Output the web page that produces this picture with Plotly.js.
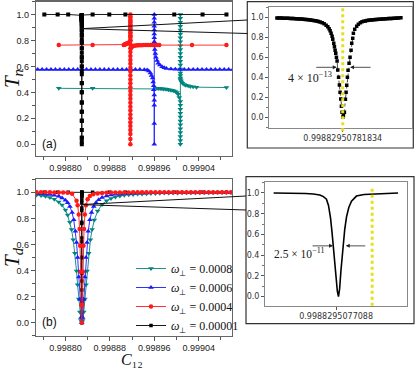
<!DOCTYPE html>
<html><head><meta charset="utf-8">
<script src="https://cdn.plot.ly/plotly-3.0.1.min.js"></script>
<style>html,body{margin:0;padding:0;background:#fff}#plot{width:415px;height:369px}</style>
</head><body><div id="plot"></div><script>
// ================= DATA =================
const legendNames = ['<i>ω</i><sub>⊥</sub> = 0.0008','<i>ω</i><sub>⊥</sub> = 0.0006','<i>ω</i><sub>⊥</sub> = 0.0004','<i>ω</i><sub>⊥</sub> = 0.00001'];

// inset (a): black series around its resonance, x offset in units of 1e-13 from centre
const insetACentre = 0.99882950781834;
const insetACentreLabel = '0.99882950781834';
const insetAOff = [-19.8,-19.3,-18.8,-18.3,-17.8,-17.3,-16.8,-16.3,-15.8,-15.3,-14.8,-14.3,-13.8,-13.3,-12.8,-12.3,-11.8,-11.3,-10.8,-10.3,-9.8,-9.3,-8.8,-8.3,-7.8,-7.3,-6.8,-6.2,-5.6,-5.0,-4.5,-4.1,-3.8,-3.5,-3.2,-3.0,-2.7,-2.5,-2.3,-2.1,-1.9,-1.7,-1.5,-1.25,-1.0,-0.8,-0.6,-0.4,-0.2,0.0,0.2,0.5,0.8,1.0,1.2,1.4,1.6,1.9,2.2,2.5,2.7,3.0,3.2,3.6,4.2,4.7,5.3,5.8,6.3,6.8,7.3,7.8,8.3,8.8,9.3,9.8,10.3,10.8,11.3,11.8,12.3,12.8,13.3,13.8,14.3,14.8,15.3,15.8,16.3,16.8,17.5];
const insetAT   = [0.993,0.993,0.992,0.992,0.991,0.991,0.990,0.990,0.989,0.988,0.987,0.986,0.985,0.984,0.983,0.982,0.981,0.979,0.977,0.975,0.973,0.971,0.968,0.965,0.962,0.959,0.953,0.945,0.935,0.920,0.906,0.885,0.865,0.840,0.810,0.780,0.740,0.706,0.670,0.640,0.600,0.563,0.473,0.400,0.323,0.250,0.183,0.110,0.050,0.0,0.02,0.05,0.18,0.25,0.32,0.40,0.47,0.54,0.60,0.67,0.74,0.79,0.84,0.88,0.91,0.93,0.945,0.955,0.960,0.964,0.967,0.970,0.972,0.974,0.976,0.978,0.979,0.980,0.981,0.983,0.984,0.985,0.986,0.987,0.988,0.989,0.990,0.991,0.992,0.993,0.995];

// inset (b): black series, x offset in units of 1e-11 from centre
const insetBCentre = 0.9988295077088;
const insetBCentreLabel = '0.9988295077088';
const insetBYellow = 7.1;
const insetBOff = [-12.3,-10,-8,-6,-4.5,-3.2,-2.5,-1.9,-1.5,-1.1,-0.8,-0.59,-0.3,0.0,0.25,0.47,0.7,0.95,1.15,1.38,1.7,2.05,2.5,3.03,4.0,5.5,7.3,9.5,12.2];
const insetBT   = [1.0,1.0,0.999,0.995,0.99,0.98,0.965,0.94,0.88,0.76,0.62,0.5,0.32,0.16,0.05,0.0,0.08,0.25,0.38,0.5,0.65,0.77,0.86,0.92,0.97,0.985,0.99,0.995,1.0];

// panel (a) T_n
const aBlackFarX = [0.998762,0.998786,0.998805,0.998849,0.998879,0.998908,0.998996,0.999047,0.999090];
const aBlackFarT = [1,1,1,1,1,1,1,1,1];
const aRedX = [0.998788,0.998849,0.998905,0.998906,0.998907,0.998908,0.998909,0.998910,0.998911,0.998912,0.998913,0.998914,0.998915,0.998916,
  0.998917,0.998917,0.998917,0.998917,0.998917,0.998917,0.998917,0.998917,0.998917,0.998917,0.998917,0.998917,0.998917,0.998917,0.998917,0.998917,0.998917,0.998917,0.998917,0.998917,0.998917,0.998917,0.998917,0.998917,0.998917,0.998917,0.998917,0.998917,0.998917,0.998917,0.998917,0.998917,0.998917,0.998917,0.998917,0.998917,0.998917,0.998917,0.998917,0.998917,0.998917,0.998917,0.998917,0.998917,
  0.998918,0.998919,0.998920,0.998922,0.998924,0.998927,0.998930,0.998933,0.998937,0.998941,0.998945,0.998949,0.998953,0.998957,0.998961,0.998965,0.998969,0.999028,0.999090];
const aRedT = [0.764,0.764,0.765,0.766,0.768,0.770,0.772,0.774,0.776,0.778,0.780,0.782,0.785,0.790,
  0.80,0.82,0.84,0.86,0.88,0.90,0.92,0.94,0.96,0.98,1.0,0.98,0.95,0.92,0.89,0.86,0.83,0.80,0.77,0.74,0.71,0.68,0.65,0.62,0.59,0.56,0.53,0.50,0.47,0.44,0.41,0.38,0.35,0.32,0.29,0.26,0.23,0.20,0.17,0.14,0.11,0.08,0.04,0.0,
  0.740,0.750,0.755,0.758,0.760,0.761,0.762,0.763,0.763,0.764,0.764,0.764,0.764,0.764,0.764,0.764,0.764,0.764,0.764];
const aBlueX = [0.998750,0.998758,0.998766,0.998774,0.998782,0.998790,0.998798,0.998806,0.998814,0.998822,0.998830,0.998838,0.998846,0.998854,0.998862,0.998870,0.998878,0.998886,0.998894,0.998902,0.998910,0.998918,0.998926,0.998934,0.998942,0.998947,0.998950,0.998953,0.998955,0.998957,0.998958,0.998959,0.998959,0.998960,0.998960,0.998960,0.998960,0.998960,0.998960,0.998960,0.998960,0.998960,0.998960,0.998960,0.998960,0.998960,0.998960,0.998961,0.998962,0.998963,0.998965,0.998967,0.998970,0.998974,0.998978,0.998982,0.998990,0.998998,0.999006,0.999014,0.999022,0.999030,0.999038,0.999046,0.999054,0.999062,0.999070,0.999078,0.999086,0.999094,0.999102];
const aBlueT = [0.577,0.577,0.577,0.577,0.577,0.577,0.577,0.577,0.577,0.577,0.577,0.577,0.577,0.577,0.577,0.577,0.577,0.577,0.577,0.577,0.577,0.577,0.577,0.576,0.575,0.572,0.565,0.55,0.53,0.51,0.48,0.45,0.42,0.38,0.34,0.30,0.16,0.0,1.0,0.97,0.94,0.91,0.88,0.85,0.82,0.79,0.76,0.73,0.70,0.67,0.645,0.625,0.61,0.598,0.59,0.584,0.58,0.578,0.577,0.577,0.577,0.577,0.577,0.577,0.577,0.577,0.577,0.577,0.577,0.577,0.577];
const aTealX = [0.998788,0.998849,0.998965,0.998968,0.998971,0.998974,0.998977,0.998980,0.998983,0.998986,0.998989,0.998992,0.998995,0.998998,0.999001,0.999003,0.999005,0.999007,0.999007,0.999007,0.999007,0.999007,0.999007,0.999007,0.999007,0.999007,0.999007,0.999007,0.999007,0.999007,0.999007,0.999007,0.999007,0.999007,0.999007,0.999007,0.999007,0.999007,0.999007,0.999007,0.999007,0.999007,0.999007,0.999007,0.999007,0.999007,0.999007,0.999007,0.999008,0.999009,0.999011,0.999014,0.999017,0.999021,0.999025,0.999030,0.999036,0.999090];
const aTealT = [0.431,0.431,0.431,0.430,0.429,0.428,0.426,0.425,0.423,0.421,0.419,0.416,0.412,0.406,0.398,0.385,0.36,0.33,0.30,0.27,0.24,0.21,0.18,0.15,0.12,0.09,0.06,0.03,0.0,1.0,0.97,0.94,0.91,0.88,0.85,0.82,0.79,0.76,0.73,0.70,0.67,0.64,0.61,0.58,0.55,0.53,0.51,0.50,0.49,0.48,0.47,0.46,0.455,0.45,0.446,0.443,0.44,0.437,0.435];

// panel (b) T_d
const bTealX = [0.998748,0.998756,0.998764,0.998772,0.998780,0.998788,0.998794,0.998800,0.998804,0.998808,0.998811,0.998814,0.998817,0.998820,0.998822,0.998824,0.998826,0.998828,0.9988295,0.998831,0.998833,0.998835,0.998837,0.998839,0.998842,0.998845,0.998848,0.998852,0.998858,0.998866,0.998874,0.998882,0.998890,0.998898,0.998906,0.998914,0.998922,0.998930,0.998938,0.998946,0.998954,0.998962,0.998970,0.998978,0.998986,0.998994,0.999002,0.999010,0.999018,0.999026,0.999034,0.999042,0.999050,0.999058,0.999066,0.999074,0.999082,0.999090,0.999098];
const bTealT = [0.980,0.975,0.969,0.960,0.947,0.926,0.902,0.864,0.826,0.771,0.714,0.637,0.532,0.397,0.290,0.181,0.082,0.016,0.0,0.016,0.082,0.181,0.290,0.397,0.532,0.637,0.714,0.787,0.856,0.907,0.935,0.953,0.964,0.972,0.977,0.981,0.984,0.987,0.988,0.990,0.991,0.992,0.993,0.994,0.994,0.995,0.995,0.996,0.996,0.996,0.997,0.997,0.997,0.997,0.997,0.998,0.998,0.998,0.998];
const bBlueX = [0.998748,0.998756,0.998764,0.998772,0.998780,0.998788,0.998794,0.998800,0.998804,0.998808,0.998812,0.998815,0.998818,0.998820,0.998822,0.998824,0.998826,0.998828,0.9988295,0.998831,0.998833,0.998835,0.998837,0.998839,0.998841,0.998844,0.998847,0.998851,0.998855,0.998860,0.998866,0.998874,0.998882,0.998890,0.998898,0.998906,0.998914,0.998922,0.998930,0.998938,0.998946,0.998954,0.998962,0.998970,0.998978,0.998986,0.998994,0.999002,0.999010,0.999018,0.999026,0.999034,0.999042,0.999050,0.999058,0.999066,0.999074,0.999082,0.999090,0.999098];
const bBlueT = [0.992,0.990,0.987,0.983,0.978,0.969,0.957,0.940,0.921,0.892,0.845,0.789,0.702,0.616,0.500,0.351,0.179,0.039,0.0,0.039,0.179,0.351,0.500,0.616,0.702,0.789,0.845,0.892,0.921,0.943,0.960,0.972,0.980,0.985,0.988,0.990,0.992,0.993,0.994,0.995,0.995,0.996,0.996,0.997,0.997,0.997,0.998,0.998,0.998,0.998,0.998,0.999,0.999,0.999,0.999,0.999,0.999,0.999,0.999,0.999];
const bRedX = [0.998748,0.998756,0.998764,0.998772,0.998780,0.998788,0.998796,0.998804,0.998812,0.998820,0.998822,0.998824,0.9988255,0.9988265,0.9988275,0.9988285,0.9988295,0.9988305,0.9988315,0.9988325,0.9988335,0.998835,0.998837,0.998840,0.998844,0.998850,0.998858,0.998866,0.998874,0.998882,0.998890,0.998898,0.998906,0.998914,0.998922,0.998930,0.998938,0.998946,0.998954,0.998962,0.998970,0.998978,0.998986,0.998994,0.999002,0.999010,0.999018,0.999026,0.999034,0.999042,0.999050,0.999058,0.999066,0.999074,0.999082,0.999090,0.999098];
const bRedT = [1.0,1.0,1.0,1.0,0.999,0.999,0.998,0.997,0.990,0.935,0.900,0.829,0.719,0.590,0.390,0.138,0.0,0.138,0.390,0.590,0.719,0.829,0.900,0.946,0.971,0.985,0.992,0.995,0.997,0.998,0.998,0.999,0.999,0.999,1.0,1.0,1.0,1.0,1.0,1.0,1.0,1.0,1.0,1.0,1.0,1.0,1.0,1.0,1.0,1.0,1.0,1.0,1.0,1.0,1.0,1.0,1.0];
const bBlackFarX = [0.998762,0.998786,0.998805,0.998849,0.998879,0.998908,0.998996,0.999047,0.999090];
const bBlackFarT = [1,1,1,1,1,1,1,1,1];

// ================= BUILD =================
const W = 415, H = 369;
const fx = p => p / W, fy = p => 1 - p / H;
const COL = {teal:'#00857d', blue:'#1a1aff', red:'#ff1a1a', black:'#000000'};

const aBlackX = aBlackFarX.slice(0,3).concat(insetAOff.map(o => insetACentre + o*1e-13), aBlackFarX.slice(3));
const aBlackT = aBlackFarT.slice(0,3).concat(insetAT, aBlackFarT.slice(3));
const bBlackX = bBlackFarX.slice(0,3).concat(insetBOff.map(o => insetBCentre + o*1e-11), bBlackFarX.slice(3));
const bBlackT = bBlackFarT.slice(0,3).concat(insetBT, bBlackFarT.slice(3));

function tr(x, y, col, sym, size, xa, ya, name, rank){
  const t = {x:x, y:y, type:'scatter', mode:'lines+markers', xaxis:xa, yaxis:ya, name:name||'', showlegend:!!name,
    line:{color:col, width:0.9}, marker:{color:col, symbol:sym, size:size, line:{width:0}}};
  if (rank) t.legendrank = rank;
  return t;
}
const data = [
  tr(aTealX, aTealT, COL.teal, 'triangle-down', 5, 'x', 'y'),
  tr(aBlueX, aBlueT, COL.blue, 'triangle-up', 5, 'x', 'y'),
  tr(aRedX, aRedT, COL.red, 'circle', 4.5, 'x', 'y'),
  tr(aBlackX, aBlackT, COL.black, 'square', 4, 'x', 'y'),
  tr(bBlackX, bBlackT, COL.black, 'square', 3.5, 'x2', 'y2', legendNames[3], 4),
  tr(bTealX, bTealT, COL.teal, 'triangle-down', 5, 'x2', 'y2', legendNames[0], 1),
  tr(bBlueX, bBlueT, COL.blue, 'triangle-up', 5, 'x2', 'y2', legendNames[1], 2),
  tr(bRedX, bRedT, COL.red, 'circle', 4.5, 'x2', 'y2', legendNames[2], 3),
  {x: insetAOff, y: insetAT, type:'scatter', mode:'lines+markers', xaxis:'x3', yaxis:'y3', showlegend:false,
   line:{color:'#000', width:0.7, dash:'dashdot'}, marker:{color:'#000', symbol:'square', size:3.5}},
  {x: insetBOff, y: insetBT, type:'scatter', mode:'lines', xaxis:'x4', yaxis:'y4', showlegend:false,
   line:{color:'#000', width:1.6}}
];

const tickFont = {family:'Liberation Sans, Arial, sans-serif', size:9, color:'#222'};
const insetTickFont = {family:'DejaVu Sans, sans-serif', size:8, color:'#333'};
function mainX(dom, anchor){
  return {domain:dom, anchor:anchor, range:[0.998747, 0.9991], tickmode:'linear', tick0:0.9988, dtick:0.00008, tickformat:'.5f',
    ticks:'outside', ticklen:3.5, tickwidth:1, tickcolor:'#555', showline:true, mirror:true, linecolor:'#666', linewidth:1.3,
    showgrid:false, zeroline:false, tickfont:tickFont,
    minor:{tick0:0.99876, dtick:0.00008, ticks:'outside', ticklen:2.5, tickcolor:'#555'}, title:{text:''}};
}
function mainY(dom, anchor, range, title){
  return {domain:dom, anchor:anchor, range:range, tickmode:'linear', tick0:0, dtick:0.2, tickformat:'.1f',
    ticks:'outside', ticklen:4, tickwidth:1, tickcolor:'#555', showline:true, mirror:true, linecolor:'#666', linewidth:1.3,
    showgrid:false, zeroline:false, tickfont:tickFont,
    minor:{tick0:0.1, dtick:0.2, ticks:'outside', ticklen:2.5, tickcolor:'#555'},
    title:{text:title, font:{family:'Liberation Serif, serif', size:21, color:'#111'}, standoff:3}};
}
function insetY(dom, anchor, range){
  return {domain:dom, anchor:anchor, range:range, tickmode:'linear', tick0:0, dtick:0.2, tickformat:'.1f',
    ticks:'outside', ticklen:3, tickcolor:'#555', showline:true, mirror:true, linecolor:'#888', linewidth:1,
    showgrid:false, zeroline:false, tickfont:insetTickFont,
    minor:{tick0:0.1, dtick:0.2, ticks:'outside', ticklen:2, tickcolor:'#777'}};
}
function insetX(dom, anchor, range, label){
  return {domain:dom, anchor:anchor, range:range, tickmode:'array', tickvals:[0], ticktext:[label],
    ticks:'outside', ticklen:3, tickcolor:'#555', showline:true, mirror:true, linecolor:'#888', linewidth:1,
    showgrid:false, zeroline:false, tickfont:insetTickFont};
}

const layout = {
  width:W, height:H, margin:{l:0,r:0,t:0,b:0}, paper_bgcolor:'#fff', plot_bgcolor:'#fff',
  xaxis: mainX([fx(36), fx(232)], 'y'),
  yaxis: mainY([fy(155.7), fy(1.5)], 'x', [-0.088, 1.1], '<i>T</i><sub><i>n</i></sub>'),
  xaxis2: mainX([fx(36), fx(232)], 'y2'),
  yaxis2: mainY([fy(335.7), fy(179.3)], 'x2', [-0.1, 1.1], '<i>T</i><sub><i>d</i></sub>'),
  xaxis3: insetX([fx(269.3), fx(411.7)], 'y3', [-22.1, 20.75], insetACentreLabel),
  yaxis3: insetY([fy(127.7), fy(7.3)], 'x3', [-0.104, 1.1]),
  xaxis4: insetX([fx(265), fx(406.7)], 'y4', [-14.0, 13.9], insetBCentreLabel),
  yaxis4: insetY([fy(305.7), fy(182.3)], 'x4', [-0.087, 1.103]),
  showlegend:true,
  legend:{x:fx(131), y:fy(340), xanchor:'left', yanchor:'bottom', bgcolor:'rgba(0,0,0,0)', borderwidth:0,
    font:{family:'Liberation Serif, serif', size:12, color:'#111'}, itemwidth:30, tracegroupgap:0},
  shapes:[
    {type:'rect', xref:'paper', yref:'paper', x0:fx(247.3), x1:fx(413.3), y0:fy(148), y1:fy(1.7), line:{color:'#333', width:1.2}, layer:'below'},
    {type:'rect', xref:'paper', yref:'paper', x0:fx(246), x1:fx(414), y0:fy(323.7), y1:fy(176.7), line:{color:'#333', width:1.2}, layer:'below'},
    {type:'line', xref:'paper', yref:'paper', x0:fx(80.7), y0:fy(28.7), x1:fx(247.3), y1:fy(20), line:{color:'#111', width:1}},
    {type:'line', xref:'paper', yref:'paper', x0:fx(80.7), y0:fy(28.7), x1:fx(247.3), y1:fy(33.5), line:{color:'#111', width:1}},
    {type:'line', xref:'paper', yref:'paper', x0:fx(80.7), y0:fy(204.6), x1:fx(246), y1:fy(196), line:{color:'#111', width:1}},
    {type:'line', xref:'paper', yref:'paper', x0:fx(80.7), y0:fy(204.6), x1:fx(246), y1:fy(210), line:{color:'#111', width:1}},
    {type:'line', xref:'x3', yref:'y3 domain', x0:0, x1:0, y0:-0.03, y1:1, line:{color:'#e6e022', width:3, dash:'dot'}},
    {type:'line', xref:'x4', yref:'y4 domain', x0:insetBYellow, x1:insetBYellow, y0:0, y1:0.96, line:{color:'#e6e022', width:3, dash:'dot'}}
  ],
  annotations:[
    {xref:'paper', yref:'paper', x:fx(132), y:0, xanchor:'center', yanchor:'bottom', borderpad:0, text:'<i>C</i>₁₂', showarrow:false, font:{family:'Liberation Serif, serif', size:16, color:'#111'}},
    {xref:'paper', yref:'paper', x:fx(49), y:fy(144), xanchor:'center', yanchor:'middle', text:'(a)', showarrow:false, font:{family:'Liberation Sans, Arial, sans-serif', size:12, color:'#111'}},
    {xref:'paper', yref:'paper', x:fx(49.5), y:fy(322), xanchor:'center', yanchor:'middle', text:'(b)', showarrow:false, font:{family:'Liberation Sans, Arial, sans-serif', size:12, color:'#111'}},
    {xref:'x3', yref:'y3', x:-1.8, y:0.5, ax:-22, ay:0, text:'', showarrow:true, arrowhead:2, arrowsize:1, arrowwidth:0.8, arrowcolor:'#222'},
    {xref:'x3', yref:'y3', x:2.2, y:0.5, ax:22, ay:0, text:'', showarrow:true, arrowhead:2, arrowsize:1, arrowwidth:0.8, arrowcolor:'#222'},
    {xref:'paper', yref:'paper', x:fx(309.5), y:fy(77), xanchor:'center', yanchor:'middle', text:'4 × 10<sup>−13</sup>', showarrow:false, font:{family:'Liberation Serif, serif', size:12, color:'#222'}},
    {xref:'x4', yref:'y4', x:-0.6, y:0.49, ax:-22, ay:0, text:'', showarrow:true, arrowhead:2, arrowsize:1, arrowwidth:0.8, arrowcolor:'#222'},
    {xref:'x4', yref:'y4', x:1.9, y:0.49, ax:21, ay:0, text:'', showarrow:true, arrowhead:2, arrowsize:1, arrowwidth:0.8, arrowcolor:'#222'},
    {xref:'paper', yref:'paper', x:fx(298.7), y:fy(253), xanchor:'center', yanchor:'middle', text:'2.5 × 10<sup>−11</sup>', showarrow:false, font:{family:'Liberation Serif, serif', size:11.5, color:'#222'}}
  ]
};
Plotly.newPlot('plot', data, layout, {staticPlot:true, displayModeBar:false});
</script></body></html>
